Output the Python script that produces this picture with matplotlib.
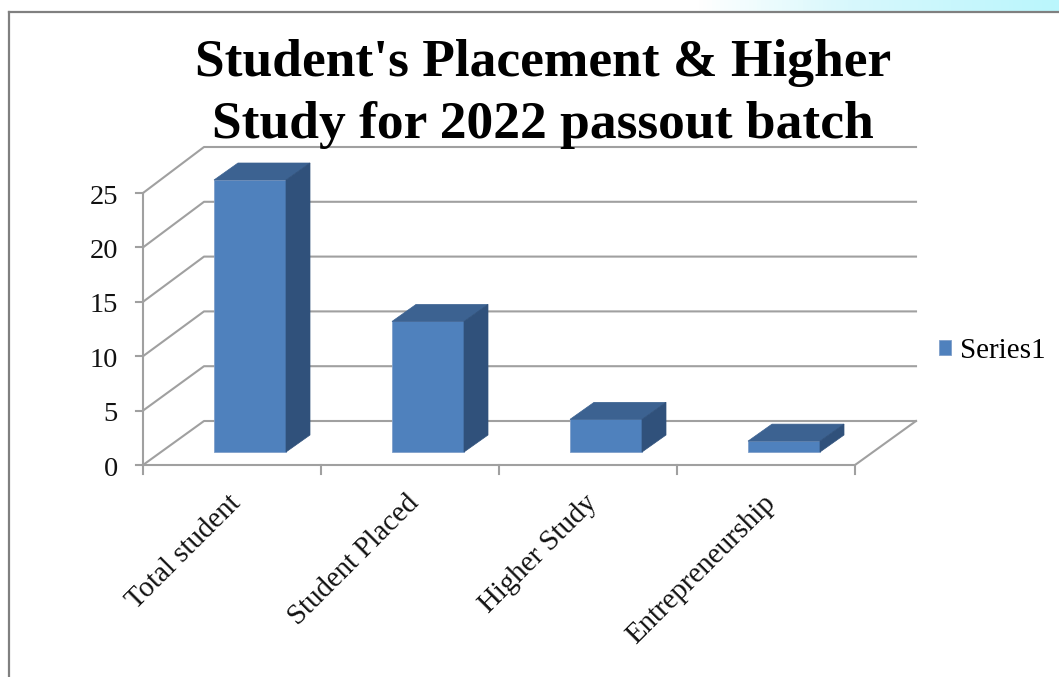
import matplotlib
matplotlib.use('Agg')
import matplotlib.pyplot as plt
from matplotlib.patches import Polygon
import numpy as np

categorias = ['Total student', 'Student Placed', 'Higher Study', 'Entrepreneurship']
valores = [25, 12, 3, 1]
y_ticks = [0, 5, 10, 15, 20, 25]
titulo = ["Student's Placement & Higher", "Study for 2022 passout batch"]

W, H = 1059, 677
FRENTE = '#4f81bd'
TOPO = '#3c6291'
LADO = '#30517b'
GRADE = '#a0a0a0'

fig = plt.figure(figsize=(W / 100, H / 100), dpi=100, facecolor='white')

# faixa azul clara no topo
fundo = fig.add_axes([0, 1 - 12 / H, 1, 12 / H])
grad = np.linspace(0, 1, 256).reshape(1, -1)
cores = matplotlib.colors.LinearSegmentedColormap.from_list(
    'faixa', [(0, 'white'), (0.66, 'white'), (0.8, '#d8f8fc'), (1, '#baf6fd')])
fundo.imshow(grad, aspect='auto', cmap=cores)
fundo.axis('off')

# moldura do slide
fig.add_artist(plt.Line2D([9 / W, 9 / W], [0, 1 - 12 / H], color='#808080', lw=1.6))
fig.add_artist(plt.Line2D([9 / W, 1], [1 - 12 / H, 1 - 12 / H], color='#808080', lw=1.6))

# eixo: 0..4 = 143..855 px, 0..25 = 465..193 px
ax = fig.add_axes([143 / W, 1 - 465 / H, 712 / W, 272 / H])
ax.set_xlim(0, 4)
ax.set_ylim(0, 25)
ax.axis('off')

px_x = 4 / 712
px_y = 25 / 272

# parede e chao em pseudo-3D
fundo_dx, fundo_dy = 61 * px_x, 44 * px_y
esc_fundo = 274 / 272
for v in y_ticks:
    y_fundo = v * esc_fundo + fundo_dy
    ax.plot([0, fundo_dx, 4 + fundo_dx], [v, y_fundo, y_fundo],
            color=GRADE, lw=1.5, clip_on=False, zorder=1)
    ax.plot([-7 * px_x, 0], [v, v], color=GRADE, lw=1.5, clip_on=False, zorder=1)
ax.plot([0, 0], [0, 25], color=GRADE, lw=1.5, clip_on=False, zorder=1)
ax.plot([0, 4, 4 + fundo_dx], [0, 0, fundo_dy], color=GRADE, lw=1.5, clip_on=False, zorder=1)
for i in range(5):
    ax.plot([i, i], [0, -9 * px_y], color=GRADE, lw=1.5, clip_on=False, zorder=1)

# barras
base = 13 * px_y
desloc = 18 * px_x
largura = 72 * px_x
prof_x, prof_y = 24 * px_x, 17 * px_y
centros = [i + 0.5 + desloc for i in range(len(valores))]

ax.bar(centros, valores, width=largura, bottom=base, color=FRENTE, edgecolor='#7f9fcb',
       linewidth=0.6, label='Series1', zorder=3, clip_on=False)
for c, v in zip(centros, valores):
    dir_ = c + largura / 2
    esq = c - largura / 2
    topo = base + v
    ax.add_patch(Polygon([(esq, topo), (dir_, topo), (dir_ + prof_x, topo + prof_y), (esq + prof_x, topo + prof_y)],
                         facecolor=TOPO, edgecolor=TOPO, lw=0.5, zorder=3, clip_on=False))
    ax.add_patch(Polygon([(dir_, base), (dir_ + prof_x, base + prof_y), (dir_ + prof_x, topo + prof_y), (dir_, topo)],
                         facecolor=LADO, edgecolor=LADO, lw=0.5, zorder=3, clip_on=False))

# textos
for v in y_ticks:
    ax.text(-25 * px_x, v - 4 * px_y, str(v), ha='right', va='center', fontsize=20.5,
            family='Liberation Serif', color='#111111')
for i, nome in enumerate(categorias):
    ax.text(i + 0.5 + 5 * px_x, -34 * px_y, nome, rotation=45, rotation_mode='anchor',
            ha='right', va='center', fontsize=20.8, family='Liberation Serif', color='#111111')

fig.text(543 / W, 1 - 63 / H, titulo[0], ha='center', va='center',
         fontsize=38.5, fontweight='bold', family='Liberation Serif', color='black')
fig.text(543 / W, 1 - 125 / H, titulo[1], ha='center', va='center',
         fontsize=38.5, fontweight='bold', family='Liberation Serif', color='black')

leg = ax.legend(loc='center left', bbox_to_anchor=((939 - 143) / 712, (465 - 351) / 272),
                frameon=False, prop={'family': 'Liberation Serif', 'size': 21},
                handlelength=0.42, handleheight=0.42, handletextpad=0.3, borderpad=0, borderaxespad=0)

fig.savefig('out.png', dpi=100, facecolor='white')
